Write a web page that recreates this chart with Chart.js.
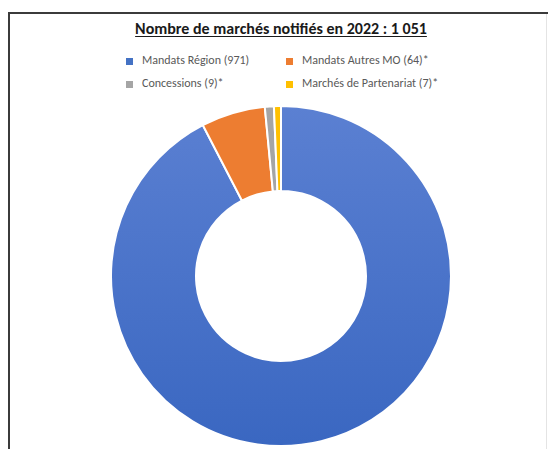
<!DOCTYPE html>
<html lang="fr">
<head>
<meta charset="utf-8">
<script src="https://cdn.jsdelivr.net/npm/chart.js@4.4.1/dist/chart.umd.min.js"></script>
<style>
  html, body { margin: 0; padding: 0; background: #fff; width: 548px; height: 449px; overflow: hidden; }
  .frame { position: absolute; left: 8px; top: 12px; width: 540px; height: 460px;
           border-left: 2px solid #3b3b3b; border-top: 2px solid #3b3b3b; box-sizing: border-box; }
  .frame-r { position: absolute; left: 546px; top: 14px; width: 1px; height: 440px; background: #e4e4e4; }
  .title { position: absolute; left: 0; width: 562px; top: 19px; text-align: center;
           font-family: Carlito, "Liberation Sans", Arial, sans-serif; font-weight: bold; font-size: 16px;
           color: #1a1a1a; }
  .title span { text-decoration: underline; text-underline-offset: 2px; }
  .legend { position: absolute; font-family: Carlito, "Liberation Sans", Arial, sans-serif; font-size: 12px; color: #595959; }
  .legend .item { position: absolute; white-space: nowrap; }
  .legend .box { position: absolute; width: 7px; height: 7px; top: 4px; left: 0; }
  .legend .txt { position: absolute; left: 16px; top: -1px; line-height: 15px; }
  #wrap { position: absolute; left: 110px; top: 105px; width: 342px; height: 342px; }
</style>
</head>
<body>
<div class="frame"></div>
<div class="frame-r"></div>
<div class="title"><span>Nombre de marchés notifiés en 2022 : 1 051</span></div>
<div class="legend" id="legend"></div>
<div id="wrap"><canvas id="chart" width="342" height="342"></canvas></div>
<script>
const categories = ["Mandats Région (971)", "Mandats Autres MO (64)*", "Concessions (9)*", "Marchés de Partenariat (7)*"];
const counts = [971, 64, 9, 7];
const colors = ["#4472C4", "#ED7D31", "#A5A5A5", "#FFC000"];

// legend: 2 columns, order as in the picture
const legendPos = [[126, 54], [286, 54], [126, 77], [286, 77]];
const legend = document.getElementById("legend");
categories.forEach((name, i) => {
    const item = document.createElement("div");
    item.className = "item";
    item.style.left = legendPos[i][0] + "px";
    item.style.top = legendPos[i][1] + "px";
    const box = document.createElement("span");
    box.className = "box";
    box.style.background = colors[i];
    const txt = document.createElement("span");
    txt.className = "txt";
    txt.textContent = name;
    item.append(box, txt);
    legend.appendChild(item);
});

const blueFill = (ctx) => {
    const area = ctx.chart.chartArea;
    if (!area) return colors[0];
    const g = ctx.chart.ctx.createLinearGradient(0, area.top, 0, area.bottom);
    g.addColorStop(0, "#5B80D2");
    g.addColorStop(1, "#3A67C1");
    return g;
};

new Chart(document.getElementById("chart"), {
    type: "doughnut",
    data: {
        labels: categories,
        datasets: [{
            data: counts,
            backgroundColor: (ctx) => ctx.dataIndex === 0 ? blueFill(ctx) : colors[ctx.dataIndex],
            borderColor: "#ffffff",
            borderWidth: 2
        }]
    },
    options: {
        responsive: false,
        animation: false,
        cutout: "50%",
        layout: { padding: 0 },
        plugins: { legend: { display: false }, tooltip: { enabled: false } }
    }
});
</script>
</body>
</html>
